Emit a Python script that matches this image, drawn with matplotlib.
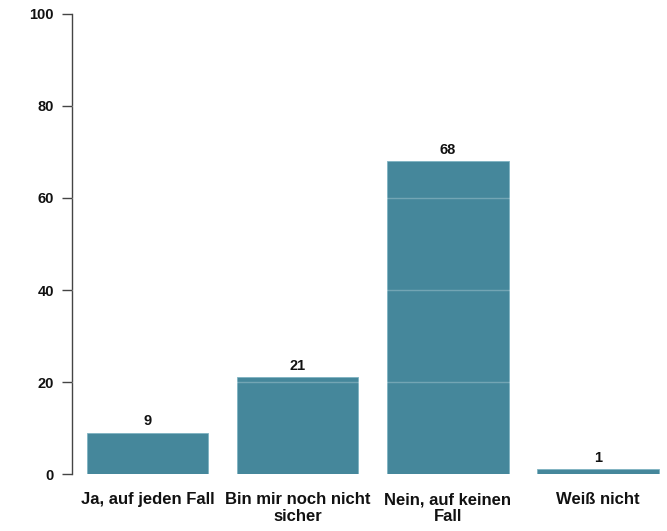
import matplotlib
matplotlib.use('Agg')
import matplotlib.pyplot as plt

categories = ['Ja, auf jeden Fall', 'Bin mir noch nicht\nsicher', 'Nein, auf keinen\nFall', 'Weiß nicht']
values = [9, 21, 68, 1]
yticks = [0, 20, 40, 60, 80, 100]

plt.rcParams['font.family'] = ['Liberation Sans', 'DejaVu Sans']
plt.rcParams['font.weight'] = 'bold'

fig = plt.figure(figsize=(6.67, 5.31), dpi=100)
ax = fig.add_axes([72 / 667, 1 - 474 / 531, 1 - 72 / 667, (474 - 14) / 531])

x = range(len(categories))
bars = ax.bar(x, values, width=0.81, color='#45879b', edgecolor='#7fb3c2', linewidth=0.6, zorder=2)

for yv in yticks[1:-1]:
    ax.axhline(yv, color='white', alpha=0.25, linewidth=1, zorder=3)

for b, v in zip(bars, values):
    ax.text(b.get_x() + b.get_width() / 2, v + 1.0, str(v), ha='center', va='bottom',
            fontsize=10.5, fontweight='bold', color='#111111')

ax.set_xlim(-0.503, 3.46)
ax.set_ylim(0, 100)
ax.set_yticks(yticks)
ax.set_xticks(list(x))
ax.set_xticklabels(categories, fontsize=12, fontweight='bold', color='#111111', linespacing=1.2)
ax.tick_params(axis='x', length=0, pad=13)
ax.tick_params(axis='y', length=7, width=1, color='#444444', labelsize=10.5, labelcolor='#111111', pad=6)

for s in ['top', 'right', 'bottom']:
    ax.spines[s].set_visible(False)
ax.spines['left'].set_color('#444444')
ax.spines['left'].set_linewidth(1)

fig.savefig('out.png', dpi=100)
